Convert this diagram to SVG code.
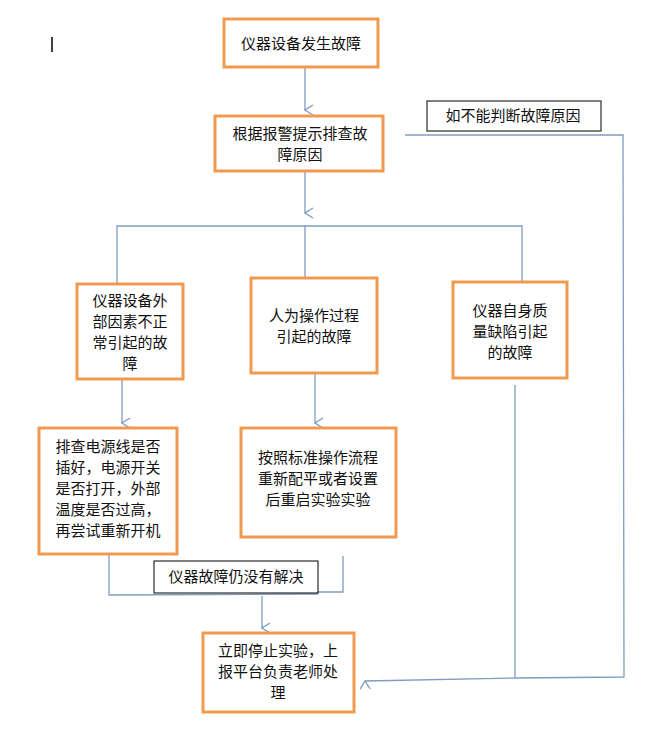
<svg xmlns="http://www.w3.org/2000/svg" width="659" height="755" viewBox="0 0 659 755">
<style>
.n{fill:#fff;stroke:#ef9a4f;stroke-width:3}
.l{fill:#fff;stroke:#000;stroke-width:1}
.c{fill:none;stroke:#7f9cc0;stroke-width:1.3}
text{font-family:"Noto Sans CJK SC",sans-serif;font-size:15px;fill:#111;text-anchor:middle}
</style>
<defs><marker id="a" markerWidth="12" markerHeight="12" refX="6" refY="11" orient="auto" markerUnits="userSpaceOnUse"><path d="M1,3 L6,11 L11,3" fill="none" stroke="#7f9cc0" stroke-width="1.3"/></marker></defs>
<rect x="0" y="0" width="659" height="755" fill="#fff"/>
<line x1="52" y1="37" x2="52" y2="52" stroke="#000" stroke-width="1.5"/>
<g id="connectors">
<line class="c" x1="305" y1="67" x2="305" y2="110" marker-end="url(#a)"/>
<line class="c" x1="305" y1="171" x2="305" y2="213" marker-end="url(#a)"/>
<polyline class="c" points="117,283 117,226 522,226 522,282"/>
<line class="c" x1="305" y1="226" x2="305" y2="277"/>
<line class="c" x1="122" y1="379" x2="122" y2="423" marker-end="url(#a)"/>
<line class="c" x1="315" y1="373" x2="315" y2="423" marker-end="url(#a)"/>
<polyline class="c" points="109,554 109,595 318,594"/>
<polyline class="c" points="318,592 343,592 343,556"/>
<line class="c" x1="262" y1="596" x2="262" y2="628" marker-end="url(#a)"/>
<polyline class="c" points="405,135 623,135 624,677 516,678"/>
<line class="c" x1="515" y1="385" x2="515" y2="678"/>
<line class="c" x1="516" y1="678" x2="365" y2="681" marker-end="url(#a)"/>
</g>
<g id="n1"><rect class="n" x="224" y="19" width="154" height="48"/><text x="301" y="49">仪器设备发生故障</text></g>
<g id="n2"><rect class="n" x="215" y="116" width="168" height="55"/><text x="300" y="139">根据报警提示排查故</text><text x="300" y="160">障原因</text></g>
<g id="lbl1"><rect class="l" x="427" y="101" width="174" height="30"/><text x="513" y="121">如不能判断故障原因</text></g>
<g id="n3"><rect class="n" x="77" y="284" width="106" height="95"/><text x="130" y="306">仪器设备外</text><text x="130" y="327">部因素不正</text><text x="130" y="348">常引起的故</text><text x="130" y="369">障</text></g>
<g id="n4"><rect class="n" x="251" y="278" width="126" height="95"/><text x="314" y="321">人为操作过程</text><text x="314" y="342">引起的故障</text></g>
<g id="n5"><rect class="n" x="453" y="282" width="114" height="96"/><text x="510" y="316">仪器自身质</text><text x="510" y="337">量缺陷引起</text><text x="510" y="358">的故障</text></g>
<g id="n6"><rect class="n" x="39" y="428" width="138" height="126"/><text x="108" y="452">排查电源线是否</text><text x="108" y="473">插好，电源开关</text><text x="108" y="494">是否打开，外部</text><text x="108" y="515">温度是否过高，</text><text x="108" y="536">再尝试重新开机</text></g>
<g id="n7"><rect class="n" x="241" y="428" width="155" height="109"/><text x="318" y="463">按照标准操作流程</text><text x="318" y="484">重新配平或者设置</text><text x="318" y="505">后重启实验实验</text></g>
<g id="lbl2"><rect class="l" x="154" y="561" width="164" height="32"/><text x="236" y="582">仪器故障仍没有解决</text></g>
<g id="n8"><rect class="n" x="203" y="633" width="151" height="79"/><text x="278" y="656">立即停止实验，上</text><text x="278" y="677">报平台负责老师处</text><text x="278" y="698">理</text></g>
</svg>
